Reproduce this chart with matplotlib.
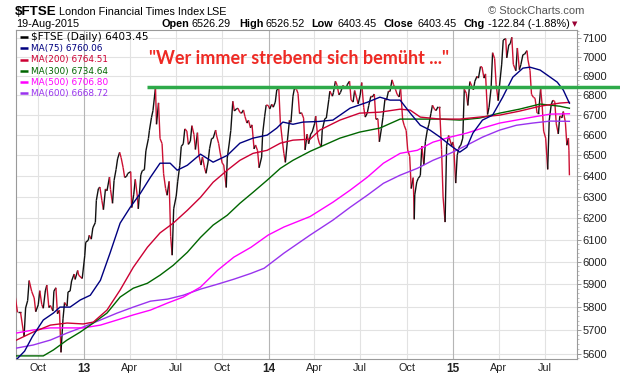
import matplotlib
matplotlib.use('Agg')
import matplotlib.pyplot as plt
import matplotlib.dates as mdates
import numpy as np
import pandas as pd
from matplotlib.collections import LineCollection
from matplotlib.ticker import FixedLocator, FixedFormatter, NullFormatter
import matplotlib.transforms as mtransforms

# ---------------- data ----------------
price_dates = [
 "2012-08-17","2012-08-22","2012-08-28","2012-09-04","2012-09-07","2012-09-11","2012-09-14","2012-09-19","2012-09-24","2012-09-27",
 "2012-10-02","2012-10-05","2012-10-09","2012-10-12","2012-10-16","2012-10-19","2012-10-23","2012-10-26","2012-10-31","2012-11-02",
 "2012-11-06","2012-11-09","2012-11-13","2012-11-16","2012-11-20","2012-11-23","2012-11-28","2012-11-30","2012-12-04","2012-12-07",
 "2012-12-12","2012-12-14","2012-12-19","2012-12-21","2012-12-28",
 "2013-01-02","2013-01-04","2013-01-09","2013-01-11","2013-01-15","2013-01-18","2013-01-23","2013-01-25","2013-01-29","2013-02-01",
 "2013-02-05","2013-02-08","2013-02-12","2013-02-15","2013-02-20","2013-02-22","2013-02-26","2013-03-01","2013-03-05","2013-03-08",
 "2013-03-12","2013-03-15","2013-03-19","2013-03-22","2013-03-26","2013-03-28","2013-04-03","2013-04-05","2013-04-09","2013-04-12",
 "2013-04-16","2013-04-18","2013-04-23","2013-04-26","2013-04-30","2013-05-03","2013-05-08","2013-05-10","2013-05-14","2013-05-17",
 "2013-05-22","2013-05-24","2013-05-28","2013-05-31","2013-06-04","2013-06-07","2013-06-11","2013-06-14","2013-06-18","2013-06-21",
 "2013-06-24","2013-06-27","2013-07-02","2013-07-05","2013-07-09","2013-07-12","2013-07-16","2013-07-19","2013-07-23","2013-07-26",
 "2013-07-30","2013-08-02","2013-08-06","2013-08-09","2013-08-13","2013-08-16","2013-08-20","2013-08-23","2013-08-27","2013-08-30",
 "2013-09-03","2013-09-06","2013-09-10","2013-09-13","2013-09-18","2013-09-20","2013-09-24","2013-09-27","2013-10-01","2013-10-04",
 "2013-10-09","2013-10-11","2013-10-15","2013-10-18","2013-10-22","2013-10-25","2013-10-29","2013-11-01","2013-11-05","2013-11-08",
 "2013-11-12","2013-11-15","2013-11-19","2013-11-22","2013-11-26","2013-11-29","2013-12-03","2013-12-06","2013-12-10","2013-12-13",
 "2013-12-18","2013-12-20","2013-12-24","2013-12-27","2013-12-31",
 "2014-01-03","2014-01-07","2014-01-10","2014-01-14","2014-01-17","2014-01-21","2014-01-24","2014-01-28","2014-01-31","2014-02-03",
 "2014-02-07","2014-02-11","2014-02-14","2014-02-18","2014-02-21","2014-02-25","2014-02-28","2014-03-03","2014-03-07","2014-03-11",
 "2014-03-14","2014-03-18","2014-03-21","2014-03-25","2014-03-28","2014-04-02","2014-04-04","2014-04-08","2014-04-11","2014-04-15",
 "2014-04-17","2014-04-22","2014-04-25","2014-04-30","2014-05-02","2014-05-07","2014-05-09","2014-05-13","2014-05-16","2014-05-20",
 "2014-05-23","2014-05-28","2014-05-30","2014-06-03","2014-06-06","2014-06-10","2014-06-13","2014-06-17","2014-06-20","2014-06-24",
 "2014-06-27","2014-07-01","2014-07-04","2014-07-08","2014-07-11","2014-07-15","2014-07-18","2014-07-22","2014-07-25","2014-07-29",
 "2014-08-01","2014-08-05","2014-08-08","2014-08-12","2014-08-15","2014-08-19","2014-08-22","2014-08-26","2014-08-29","2014-09-02",
 "2014-09-05","2014-09-09","2014-09-12","2014-09-16","2014-09-19","2014-09-23","2014-09-26","2014-09-30","2014-10-03","2014-10-07",
 "2014-10-10","2014-10-14","2014-10-16","2014-10-17","2014-10-21","2014-10-24","2014-10-28","2014-10-31","2014-11-04","2014-11-07",
 "2014-11-11","2014-11-14","2014-11-18","2014-11-21","2014-11-25","2014-11-28","2014-12-02","2014-12-05","2014-12-09","2014-12-12",
 "2014-12-16","2014-12-19","2014-12-23","2014-12-29","2014-12-31",
 "2015-01-02","2015-01-06","2015-01-09","2015-01-13","2015-01-16","2015-01-20","2015-01-23","2015-01-27","2015-01-30","2015-02-03",
 "2015-02-06","2015-02-10","2015-02-13","2015-02-17","2015-02-20","2015-02-24","2015-02-27","2015-03-03","2015-03-06","2015-03-10",
 "2015-03-13","2015-03-17","2015-03-20","2015-03-24","2015-03-27","2015-03-31","2015-04-02","2015-04-07","2015-04-10","2015-04-15",
 "2015-04-17","2015-04-21","2015-04-24","2015-04-27","2015-04-30","2015-05-05","2015-05-08","2015-05-12","2015-05-15","2015-05-19",
 "2015-05-22","2015-05-27","2015-05-29","2015-06-02","2015-06-05","2015-06-09","2015-06-12","2015-06-16","2015-06-19","2015-06-23",
 "2015-06-26","2015-06-29","2015-07-03","2015-07-07","2015-07-10","2015-07-14","2015-07-17","2015-07-21","2015-07-24","2015-07-28",
 "2015-07-31","2015-08-04","2015-08-07","2015-08-11","2015-08-14","2015-08-17","2015-08-18","2015-08-19"]
price_vals = [
 5852,5776,5776,5672,5795,5827,5916,5868,5839,5779,
 5809,5871,5810,5794,5870,5896,5797,5806,5782,5869,
 5884,5770,5786,5605,5748,5819,5803,5866,5869,5914,
 5945,5921,5961,5940,5925,
 6027,6089,6098,6121,6103,6155,6180,6284,6339,6347,
 6282,6240,6338,6329,6395,6335,6270,6378,6432,6483,
 6515,6489,6440,6393,6399,6412,6421,6250,6313,6384,
 6304,6244,6406,6426,6430,6522,6583,6624,6687,6723,
 6840,6654,6762,6583,6558,6411,6340,6308,6374,6116,
 6030,6244,6304,6375,6450,6544,6557,6631,6620,6554,
 6570,6647,6604,6529,6612,6499,6453,6492,6440,6413,
 6468,6533,6583,6584,6625,6596,6558,6512,6462,6454,
 6345,6487,6561,6623,6770,6721,6731,6735,6714,6709,
 6726,6693,6660,6674,6636,6651,6532,6551,6523,6440,
 6492,6606,6694,6751,6749,
 6731,6755,6740,6766,6829,6834,6664,6572,6510,6466,
 6572,6674,6664,6796,6838,6831,6810,6708,6712,6685,
 6527,6605,6557,6605,6615,6659,6695,6590,6561,6541,
 6625,6682,6685,6780,6822,6796,6814,6873,6855,6803,
 6815,6851,6845,6836,6858,6873,6777,6766,6825,6787,
 6757,6802,6866,6738,6690,6710,6749,6795,6792,6807,
 6679,6682,6567,6632,6689,6780,6776,6822,6820,6880,
 6855,6830,6806,6792,6837,6677,6649,6623,6527,6495,
 6340,6392,6195,6310,6372,6389,6402,6546,6453,6567,
 6628,6654,6709,6750,6730,6723,6742,6742,6530,6300,
 6182,6545,6598,6547,6566,
 6547,6366,6501,6542,6550,6585,6832,6811,6749,6871,
 6853,6829,6873,6898,6889,6949,6947,6889,6911,6703,
 6740,6837,7022,6991,6855,6773,6833,6962,7089,7097,
 6995,7063,7070,7104,6961,6927,7047,6933,6960,7012,
 7013,7033,6984,6929,6805,6790,6785,6710,6710,6834,
 6753,6620,6585,6432,6673,6753,6775,6769,6656,6606,
 6696,6686,6718,6664,6550,6585,6526,6403.45]

ma75_dates = ["2012-08-20","2012-09-05","2012-09-20","2012-10-12","2012-11-01","2012-11-14","2012-12-04","2012-12-24",
 "2013-01-13","2013-02-02","2013-02-21","2013-03-13","2013-04-02","2013-04-22","2013-05-12","2013-05-31","2013-06-20",
 "2013-07-04","2013-07-24","2013-08-19","2013-09-13","2013-10-11","2013-11-05","2013-12-01","2013-12-29","2014-01-17",
 "2014-01-29","2014-02-18","2014-03-10","2014-04-10","2014-05-08","2014-06-11","2014-07-15","2014-08-09","2014-08-29",
 "2014-09-18","2014-10-08","2014-10-28","2014-11-16","2014-12-06","2014-12-26","2015-01-14","2015-01-28","2015-02-09",
 "2015-02-28","2015-03-20","2015-04-09","2015-04-29","2015-05-19","2015-06-02","2015-06-22","2015-07-12","2015-07-26",
 "2015-08-07","2015-08-19"]
ma75_vals = [5575,5610,5670,5743,5773,5799,5799,5830,
 5851,5917,6039,6177,6251,6317,6394,6462,6462,
 6428,6452,6506,6467,6500,6560,6585,6600,6635,
 6665,6654,6665,6668,6675,6735,6765,6791,6776,
 6776,6710,6649,6625,6590,6550,6516,6540,6610,
 6675,6700,6791,6894,6941,6946,6931,6894,6868,
 6827,6760.06]

ma200_dates = ["2012-08-20","2012-09-22","2012-10-26","2012-11-28","2012-12-30","2013-01-19","2013-02-15","2013-03-13",
 "2013-04-08","2013-05-06","2013-05-31","2013-06-26","2013-07-24","2013-08-19","2013-09-13","2013-10-11","2013-11-05",
 "2013-12-01","2013-12-29","2014-01-24","2014-02-18","2014-03-24","2014-04-12","2014-05-22","2014-06-30","2014-08-09",
 "2014-09-18","2014-10-08","2014-10-28","2014-12-06","2015-01-14","2015-02-22","2015-04-03","2015-05-12","2015-06-22",
 "2015-07-31","2015-08-19"]
ma200_vals = [5657,5691,5721,5730,5726,5734,5786,5874,
 5975,6066,6132,6177,6237,6298,6370,6428,6476,
 6510,6525,6560,6575,6580,6625,6675,6710,6715,
 6730,6725,6690,6680,6680,6690,6700,6720,6745,
 6761,6764.51]

ma300_dates = ["2012-08-20","2012-10-12","2012-11-01","2012-11-28","2012-12-24","2013-01-19","2013-02-15","2013-03-13",
 "2013-04-08","2013-05-06","2013-05-31","2013-06-26","2013-07-24","2013-08-19","2013-09-13","2013-10-11","2013-11-05",
 "2013-12-01","2013-12-29","2014-01-24","2014-02-18","2014-03-24","2014-05-22","2014-06-30","2014-08-09","2014-09-18",
 "2014-10-28","2014-12-06","2015-01-14","2015-02-22","2015-04-03","2015-05-12","2015-06-22","2015-07-31","2015-08-19"]
ma300_vals = [5590,5590,5615,5657,5691,5730,5773,5843,
 5882,5904,5940,5984,6043,6111,6168,6214,6270,
 6322,6380,6437,6476,6520,6585,6615,6635,6680,
 6680,6680,6675,6685,6710,6730,6756,6745,6734.64]

ma500_dates = ["2012-08-20","2012-09-22","2012-10-26","2012-11-28","2012-12-30","2013-02-02","2013-03-07","2013-04-08",
 "2013-05-12","2013-06-15","2013-07-16","2013-08-19","2013-09-22","2013-10-24","2013-11-27","2013-12-31","2014-01-31",
 "2014-03-24","2014-05-08","2014-06-11","2014-07-15","2014-08-16","2014-09-18","2014-10-22","2014-11-22","2014-12-26",
 "2015-01-28","2015-02-28","2015-04-03","2015-05-06","2015-06-07","2015-07-12","2015-08-19"]
ma500_vals = [5687,5700,5709,5709,5709,5721,5743,5765,
 5786,5817,5843,5887,5962,6021,6066,6122,6159,
 6208,6275,6332,6394,6462,6510,6525,6565,6590,
 6610,6635,6660,6675,6690,6705,6706.80]

ma600_dates = ["2012-08-20","2012-09-22","2012-10-26","2012-11-28","2012-12-30","2013-02-02","2013-03-07","2013-04-08",
 "2013-05-12","2013-06-15","2013-07-16","2013-08-19","2013-09-22","2013-10-24","2013-11-27","2013-12-23","2014-01-31",
 "2014-03-24","2014-05-08","2014-06-11","2014-07-15","2014-08-16","2014-09-18","2014-10-22","2014-11-22","2014-12-26",
 "2015-01-28","2015-02-28","2015-04-03","2015-05-06","2015-06-07","2015-07-12","2015-08-19"]
ma600_vals = [5623,5636,5657,5687,5713,5743,5773,5799,
 5825,5834,5851,5878,5900,5922,5948,5971,6039,
 6122,6191,6251,6308,6365,6404,6437,6476,6510,
 6550,6590,6625,6649,6660,6670,6668.72]

legend_labels = ["$FTSE (Daily) 6403.45", "MA(75) 6760.06", "MA(200) 6764.51",
                 "MA(300) 6734.64", "MA(500) 6706.80", "MA(600) 6668.72"]
legend_colors = ["#000000", "#000080", "#cc0033", "#006600", "#ff00ff", "#9933ee"]

y_ticks = [5600, 5700, 5800, 5900, 6000, 6100, 6200, 6300, 6400, 6500, 6600, 6700, 6800, 6900, 7000, 7100]
x_tick_dates = ["2012-10-01","2013-01-01","2013-04-01","2013-07-01","2013-10-01","2014-01-01","2014-04-01",
                "2014-07-01","2014-10-01","2015-01-01","2015-04-01","2015-07-01"]
x_tick_labels = ["Oct","13","Apr","Jul","Oct","14","Apr","Jul","Oct","15","Apr","Jul"]

resistance_level = 6843
quote = "\"Wer immer strebend sich bemüht ...\""

# ---------------- figure ----------------
W, H = 620, 376
fig = plt.figure(figsize=(W/100, H/100), dpi=100)
L, R, T, B = 16, 577, 30, 359
ax = fig.add_axes([L/W, 1-B/H, (R-L)/W, (B-T)/H])
ax.set_yscale('log')

def fx(x):
    return x / W
def fy(y):
    return 1 - y / H

xnum = lambda d: mdates.date2num(pd.to_datetime(d))
ax.set_xlim(xnum("2012-08-19"), xnum("2015-09-03"))
ax.set_ylim(5577, 7143)

# grid
for v in y_ticks:
    ax.axhline(v, color='#e2e2e2', lw=0.8, zorder=0)
for d, lab in zip(x_tick_dates, x_tick_labels):
    c = '#b5b5b5' if lab.isdigit() else '#e2e2e2'
    ax.axvline(xnum(d), color=c, lw=0.8, zorder=0)

# price line colored by direction
px = xnum(price_dates)
py = np.array(price_vals, dtype=float)
pts = np.column_stack([px, py])
segs = np.stack([pts[:-1], pts[1:]], axis=1)
cols = ['#111111' if b >= a else '#cc1133' for a, b in zip(py[:-1], py[1:])]
lc = LineCollection(segs, colors=cols, linewidths=1.0, zorder=3)
ax.add_collection(lc)

for dts, vals, c in [(ma600_dates, ma600_vals, legend_colors[5]),
                     (ma500_dates, ma500_vals, legend_colors[4]),
                     (ma300_dates, ma300_vals, legend_colors[3]),
                     (ma200_dates, ma200_vals, legend_colors[2]),
                     (ma75_dates, ma75_vals, legend_colors[1])]:
    ax.plot(xnum(dts), vals, color=c, lw=1.0, zorder=4)

# resistance line (extends across the axis labels)
trans = mtransforms.blended_transform_factory(ax.transAxes, ax.transData)
ax.plot([(147-L)/(R-L), (622-L)/(R-L)], [resistance_level, resistance_level],
        transform=trans, color='#2eaa4a', lw=2.5, clip_on=False, zorder=6,
        solid_capstyle='butt')

# axes styling
for s in ax.spines.values():
    s.set_color('#9a9a9a')
    s.set_linewidth(0.8)
ax.yaxis.tick_right()
ax.yaxis.set_major_locator(FixedLocator(y_ticks))
ax.yaxis.set_major_formatter(FixedFormatter([str(v) for v in y_ticks]))
ax.yaxis.set_minor_locator(FixedLocator(list(range(5580, 7141, 20))))
ax.yaxis.set_minor_formatter(NullFormatter())
ax.tick_params(axis='y', which='major', length=3, width=0.6, color='#888888', pad=1,
               labelsize=8, labelcolor='#222222')
ax.tick_params(axis='y', which='minor', length=1.5, width=0.5, color='#aaaaaa')
ax.set_xticks(xnum(x_tick_dates))
ax.set_xticklabels(x_tick_labels)
ax.tick_params(axis='x', length=0, pad=3, labelsize=7.8, labelcolor='#222222')
ax.xaxis.set_minor_locator(FixedLocator([]))
for lab in ax.get_xticklabels():
    lab.set_fontfamily('Liberation Sans')
    if lab.get_text().isdigit():
        lab.set_fontweight('bold')
        lab.set_fontsize(8.5)
for lab in ax.get_yticklabels():
    lab.set_fontfamily('Liberation Sans')

# header
hf = 'Liberation Sans'
fig.text(fx(15), fy(15), "$FTSE", fontsize=9.6, fontweight='bold', family=hf, va='baseline')
fig.text(fx(59), fy(15), "London Financial Times Index", fontsize=7.8, family=hf, va='baseline')
fig.text(fx(206), fy(15), "LSE", fontsize=7.8, family=hf, va='baseline')
fig.text(fx(16), fy(27), "19-Aug-2015", fontsize=7.8, family=hf, va='baseline')
fig.text(fx(488), fy(14), "\u00a9 StockCharts.com", fontsize=8, family=hf, va='baseline', color='#555555')
hdr = [("Open", 162, True), ("6526.29", 192, False), ("High", 239, True), ("6526.52", 266, False),
       ("Low", 311, True), ("6403.45", 337, False), ("Close", 383, True), ("6403.45", 418, False),
       ("Chg", 463, True), ("-122.84 (-1.88%)", 488, False)]
for txt, x, b in hdr:
    fig.text(fx(x), fy(27), txt, fontsize=7.8, family=hf, va='baseline',
             fontweight='bold' if b else 'normal')
fig.text(fx(572), fy(26), "\u25bc", fontsize=5, family='DejaVu Sans', va='baseline', color='#990033')

# legend
baselines = [40, 50.8, 62.2, 73.6, 84.8, 95.8]
for i, (lab, c) in enumerate(zip(legend_labels, legend_colors)):
    yb = baselines[i]
    fs = 7.6 if i == 0 else 6.4
    ym = yb - (3.2 if i == 0 else 2.7)
    fig.add_artist(plt.Line2D([fx(20), fx(28)], [fy(ym), fy(ym)], color=c, lw=1.8,
                              transform=fig.transFigure, solid_capstyle='butt'))
    fig.text(fx(31), fy(yb), lab, fontsize=fs, family='DejaVu Sans', va='baseline',
             color='#000000' if i == 0 else c)

# quote annotation, fitted to width
qt = fig.text(fx(149), fy(58), quote, fontsize=13, family='Lato', fontweight='bold',
              color='#ee2a24', va='center', ha='left')
fig.canvas.draw()
wpx = qt.get_window_extent().width
qt.set_fontsize(13 * 300.0 / wpx)

fig.savefig('out.png', dpi=100)
